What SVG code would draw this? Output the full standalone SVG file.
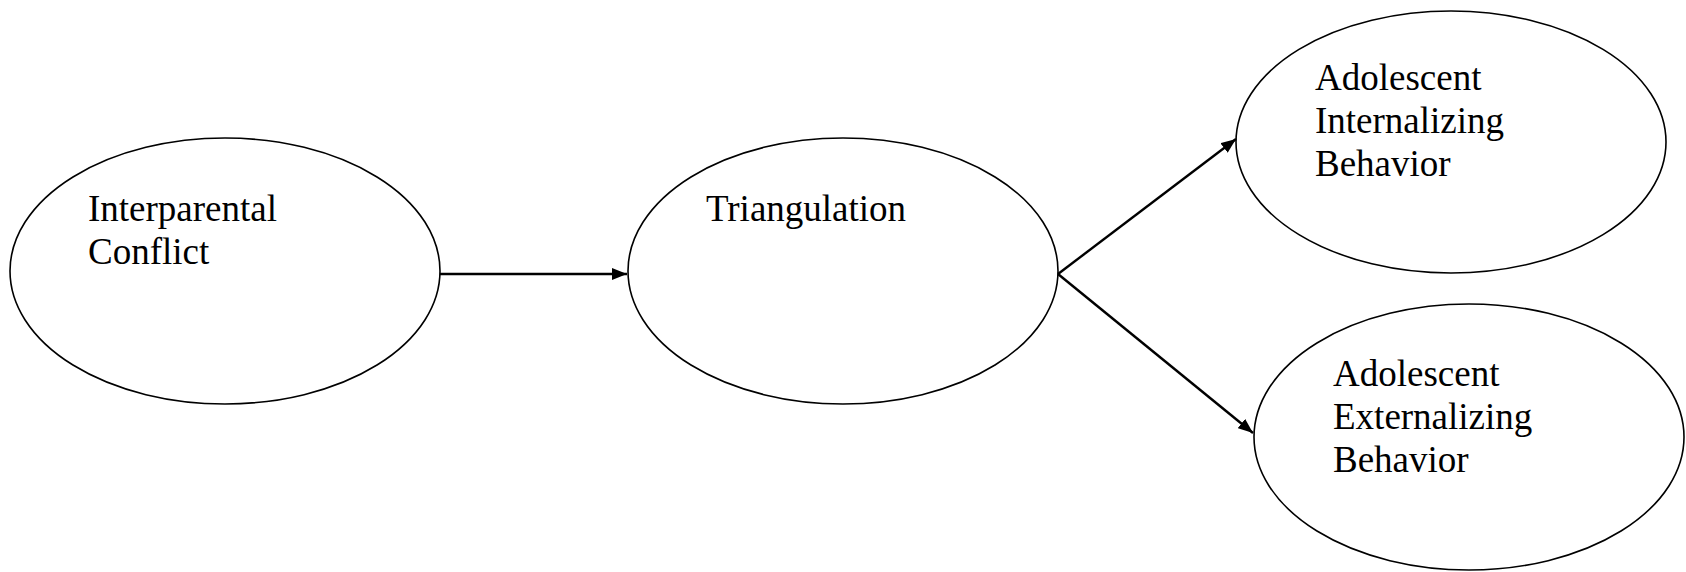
<svg xmlns="http://www.w3.org/2000/svg" width="1686" height="572" viewBox="0 0 1686 572">
<defs>
<style>
.node ellipse{fill:#fff;stroke:#000;stroke-width:1.6}
.node text{font-family:"Liberation Serif","Times New Roman",serif;font-size:37px;fill:#000}
.conn line{stroke:#000;stroke-width:2.4}
</style>
<marker id="ah" markerWidth="15" markerHeight="12" refX="15" refY="6" orient="auto" markerUnits="userSpaceOnUse" viewBox="0 0 15 12">
<path d="M0,0 L15,6 L0,12 Z" fill="#000"/>
</marker>
</defs>
<rect width="1686" height="572" fill="#fff"/>
<g id="n1" class="node">
<ellipse cx="225" cy="271" rx="215" ry="133"/>
<text x="88" y="221">Interparental</text>
<text x="88" y="264">Conflict</text>
</g>
<g id="n2" class="node">
<ellipse cx="843" cy="271" rx="215" ry="133"/>
<text x="706" y="221">Triangulation</text>
</g>
<g id="n3" class="node">
<ellipse cx="1451" cy="142" rx="215" ry="131"/>
<text x="1315" y="90">Adolescent</text>
<text x="1315" y="133">Internalizing</text>
<text x="1315" y="176">Behavior</text>
</g>
<g id="n4" class="node">
<ellipse cx="1469" cy="437" rx="215" ry="133"/>
<text x="1333" y="386">Adolescent</text>
<text x="1333" y="429">Externalizing</text>
<text x="1333" y="472">Behavior</text>
</g>
<g id="connectors" class="conn">
<line x1="440" y1="274" x2="627" y2="274" marker-end="url(#ah)"/>
<line x1="1058" y1="274" x2="1236" y2="139" marker-end="url(#ah)"/>
<line x1="1058" y1="274" x2="1253" y2="433" marker-end="url(#ah)"/>
</g>
</svg>
